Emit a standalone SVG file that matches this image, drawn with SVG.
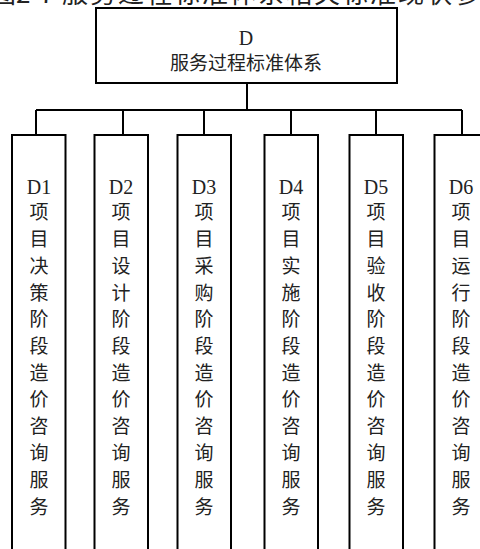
<svg xmlns="http://www.w3.org/2000/svg" width="480" height="549" viewBox="0 0 480 549">
<style>
.box{fill:#fff;stroke:#000;stroke-width:2}
.ln{fill:none;stroke:#000;stroke-width:2}
.t{font-family:"Liberation Serif","Noto Sans CJK SC",serif;font-size:20px;fill:#222;text-anchor:middle}
.v{font-family:"Noto Sans CJK SC",sans-serif;font-size:19px;fill:#222;text-anchor:middle}
.title{font-family:"Noto Sans CJK SC",sans-serif;font-size:26px;fill:#222}
</style>
<rect width="480" height="549" fill="#fff"/>
<text class="title" x="-10" y="3">图2-7</text>
<text class="title" x="62" y="3" letter-spacing="2">服务过程标准体系相关标准现状参</text>
<g id="connectors">
<path class="ln" d="M247 83V110M36 110H462M36 110V135M123 110V135M204 110V135M291 110V135M376 110V135M462 110V135"/>
</g>
<g id="D">
<rect class="box" x="96" y="8" width="301" height="75"/>
<text class="t" x="246" y="45">D</text>
<text class="v" x="246" y="70">服务过程标准体系</text>
</g>
<g id="D1">
<rect class="box" x="12" y="135" width="53.5" height="430"/>
<text class="t" x="39" y="194">D1</text>
<text class="v" x="39"><tspan x="39" y="219">项</tspan><tspan x="39" y="246">目</tspan><tspan x="39" y="273">决</tspan><tspan x="39" y="300">策</tspan><tspan x="39" y="326">阶</tspan><tspan x="39" y="353">段</tspan><tspan x="39" y="380">造</tspan><tspan x="39" y="406">价</tspan><tspan x="39" y="433">咨</tspan><tspan x="39" y="460">询</tspan><tspan x="39" y="487">服</tspan><tspan x="39" y="514">务</tspan></text>
</g>
<g id="D2">
<rect class="box" x="94.5" y="135" width="53.5" height="430"/>
<text class="t" x="121" y="194">D2</text>
<text class="v"><tspan x="121" y="219">项</tspan><tspan x="121" y="246">目</tspan><tspan x="121" y="273">设</tspan><tspan x="121" y="300">计</tspan><tspan x="121" y="326">阶</tspan><tspan x="121" y="353">段</tspan><tspan x="121" y="380">造</tspan><tspan x="121" y="406">价</tspan><tspan x="121" y="433">咨</tspan><tspan x="121" y="460">询</tspan><tspan x="121" y="487">服</tspan><tspan x="121" y="514">务</tspan></text>
</g>
<g id="D3">
<rect class="box" x="177.5" y="135" width="53.5" height="430"/>
<text class="t" x="204" y="194">D3</text>
<text class="v"><tspan x="204" y="219">项</tspan><tspan x="204" y="246">目</tspan><tspan x="204" y="273">采</tspan><tspan x="204" y="300">购</tspan><tspan x="204" y="326">阶</tspan><tspan x="204" y="353">段</tspan><tspan x="204" y="380">造</tspan><tspan x="204" y="406">价</tspan><tspan x="204" y="433">咨</tspan><tspan x="204" y="460">询</tspan><tspan x="204" y="487">服</tspan><tspan x="204" y="514">务</tspan></text>
</g>
<g id="D4">
<rect class="box" x="264.5" y="135" width="53.5" height="430"/>
<text class="t" x="291" y="194">D4</text>
<text class="v"><tspan x="291" y="219">项</tspan><tspan x="291" y="246">目</tspan><tspan x="291" y="273">实</tspan><tspan x="291" y="300">施</tspan><tspan x="291" y="326">阶</tspan><tspan x="291" y="353">段</tspan><tspan x="291" y="380">造</tspan><tspan x="291" y="406">价</tspan><tspan x="291" y="433">咨</tspan><tspan x="291" y="460">询</tspan><tspan x="291" y="487">服</tspan><tspan x="291" y="514">务</tspan></text>
</g>
<g id="D5">
<rect class="box" x="349.5" y="135" width="53.5" height="430"/>
<text class="t" x="376" y="194">D5</text>
<text class="v"><tspan x="376" y="219">项</tspan><tspan x="376" y="246">目</tspan><tspan x="376" y="273">验</tspan><tspan x="376" y="300">收</tspan><tspan x="376" y="326">阶</tspan><tspan x="376" y="353">段</tspan><tspan x="376" y="380">造</tspan><tspan x="376" y="406">价</tspan><tspan x="376" y="433">咨</tspan><tspan x="376" y="460">询</tspan><tspan x="376" y="487">服</tspan><tspan x="376" y="514">务</tspan></text>
</g>
<g id="D6">
<rect class="box" x="434.5" y="135" width="53.5" height="430"/>
<text class="t" x="461" y="194">D6</text>
<text class="v"><tspan x="461" y="219">项</tspan><tspan x="461" y="246">目</tspan><tspan x="461" y="273">运</tspan><tspan x="461" y="300">行</tspan><tspan x="461" y="326">阶</tspan><tspan x="461" y="353">段</tspan><tspan x="461" y="380">造</tspan><tspan x="461" y="406">价</tspan><tspan x="461" y="433">咨</tspan><tspan x="461" y="460">询</tspan><tspan x="461" y="487">服</tspan><tspan x="461" y="514">务</tspan></text>
</g>
</svg>
